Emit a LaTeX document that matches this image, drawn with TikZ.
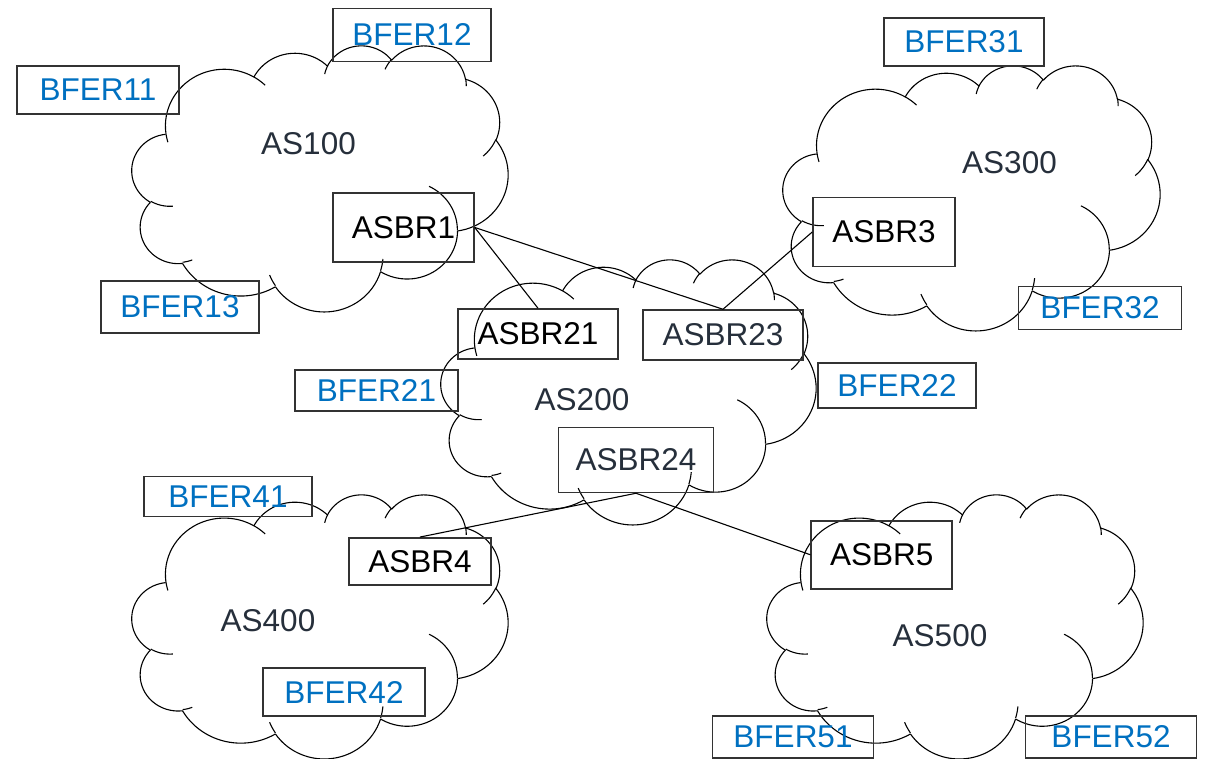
\documentclass[tikz,border=0pt]{standalone}
\usepackage{fontspec}
\setmainfont{Liberation Sans}
\definecolor{bferblue}{HTML}{0070C0}
\definecolor{asgray}{HTML}{262F3B}
\definecolor{boxgray}{HTML}{333333}
\newcommand\labelfont{\fontsize{31.5}{38}\selectfont}
% cloud drawing helpers (PowerPoint-like cloud, path space 43.2 x 43.2, y down)
\newcommand\setcloud[4]{\def\cldx{#1}\def\cldy{#2}\pgfmathsetmacro\cldsx{#3/43.2}\pgfmathsetmacro\cldsy{#4/43.2}}
\newcommand\cldmove[2]{\def\curx{#1}\def\cury{#2}}
\newcommand\cldarc[4]{%
  \pgfmathsetmacro\cta{atan2((#1)*sin(#3),(#2)*cos(#3))}%
  \pgfmathsetmacro\ctb{atan2((#1)*sin((#3)+(#4)),(#2)*cos((#3)+(#4)))}%
  \pgfmathsetmacro\ctb{\cta+mod(\ctb-\cta+720,360)}%
  \pgfmathsetmacro\ccx{\curx-(#1)*cos(\cta)}%
  \pgfmathsetmacro\ccy{\cury-(#2)*sin(\cta)}%
  \draw[cloudline] plot[domain=\cta:\ctb, samples=30, smooth]
    ({\cldx+\cldsx*(\ccx+(#1)*cos(\x))},{\cldy+\cldsy*(\ccy+(#2)*sin(\x))});%
  \pgfmathsetmacro\curx{\ccx+(#1)*cos(\ctb)}%
  \pgfmathsetmacro\cury{\ccy+(#2)*sin(\ctb)}%
}
\newcommand\cldear[6]{\cldmove{#1}{#2}\cldarc{#3}{#4}{#5}{#6}}
\newcommand\drawcloud[4]{%
  \setcloud{#1}{#2}{#3}{#4}%
  \cldmove{3.900}{14.370}%
  \cldarc{6.753}{9.190}{-190.4875}{123.7805}%
  \cldarc{5.333}{7.267}{-144.1024}{89.9452}%
  \cldarc{4.365}{5.945}{-145.8079}{99.7230}%
  \cldarc{4.857}{6.595}{-130.9861}{117.2417}%
  \cldarc{5.333}{7.273}{-78.7089}{109.0269}%
  \cldarc{6.775}{9.220}{-46.2673}{130.2690}%
  \cldarc{5.785}{7.867}{0.6250}{114.0333}%
  \cldarc{6.752}{9.215}{22.4516}{115.1726}%
  \cldarc{7.720}{10.543}{66.2426}{75.7110}%
  \cldarc{4.360}{5.918}{-274.9421}{146.7356}%
  \cldarc{4.345}{5.945}{-246.8285}{152.5189}%
  \cldear{4.693}{26.177}{4.345}{5.945}{86.7420}{26.4295}%
  \cldear{6.928}{34.899}{4.360}{5.918}{73.6105}{11.4475}%
  \cldear{16.478}{39.090}{6.752}{9.215}{137.6242}{14.0811}%
  \cldear{28.827}{34.751}{6.752}{9.215}{6.4533}{15.9984}%
  \cldear{34.129}{22.954}{5.785}{7.867}{-70.2924}{70.9174}%
  \cldear{41.798}{15.354}{5.333}{7.273}{30.3180}{27.7515}%
  \cldear{38.324}{5.426}{4.857}{6.595}{-13.7443}{14.8589}%
  \cldear{29.078}{3.952}{4.857}{6.595}{-149.1815}{18.1954}%
  \cldear{22.141}{4.720}{4.365}{5.945}{-163.4943}{17.6864}%
  \cldear{14.000}{5.192}{6.753}{9.190}{-66.7070}{12.3194}%
  \cldear{4.127}{15.789}{6.753}{9.190}{157.6544}{11.8582}%
}
\tikzset{
  cloudline/.style={draw=black, line width=1.1pt},
  boxnode/.style={draw=boxgray, line width=1.5pt, rectangle, inner sep=0pt, font=\labelfont},
  bfer/.style={boxnode, text=bferblue},
  asbr/.style={boxnode, text=black},
  asbrg/.style={boxnode, text=asgray},
  aslabel/.style={text=asgray, font=\labelfont, inner sep=0pt},
  link/.style={draw=black, line width=1.1pt},
}
\begin{document}
\begin{tikzpicture}[x=1pt,y=-1pt]
\useasboundingbox (0,0) rectangle (1207,759);
% clouds
\drawcloud{132}{45}{376}{266}
\drawcloud{783}{65}{377}{265}
\drawcloud{441}{259}{375}{265}
\drawcloud{132}{494}{376}{264}
\drawcloud{767}{494}{376}{264}
% AS labels
\node[aslabel] (as100) at (308.5,143.5) {AS100};
\node[aslabel] (as200) at (582,400) {AS200};
\node[aslabel] (as300) at (1009.5,162.5) {AS300};
\node[aslabel] (as400) at (268,621) {AS400};
\node[aslabel] (as500) at (940,636) {AS500};
% boxes
\node[bfer, minimum width=158pt, minimum height=53pt] (bfer12) at (412,35) {BFER12};
\node[bfer, minimum width=162pt, minimum height=48pt] (bfer11) at (98,90) {BFER11};
\node[asbr, minimum width=141pt, minimum height=69pt] (asbr1) at (403.5,227.5) {ASBR1};
\node[bfer, minimum width=158pt, minimum height=52pt] (bfer13) at (180,307) {BFER13};
\node[bfer, minimum width=160pt, minimum height=48pt] (bfer31) at (964,42) {BFER31};
\node[asbr, minimum width=142pt, minimum height=69pt] (asbr3) at (884,232) {ASBR3};
\node[bfer, minimum width=163pt, minimum height=43pt] (bfer32) at (1100,308) {BFER32};
\node[asbr, minimum width=160pt, minimum height=50pt] (asbr21) at (538,334) {ASBR21};
\node[asbrg, minimum width=160pt, minimum height=50pt] (asbr23) at (723,335) {ASBR23};
\node[bfer, minimum width=163pt, minimum height=41pt] (bfer21) at (376.5,390.5) {BFER21};
\node[bfer, minimum width=158pt, minimum height=45pt] (bfer22) at (897,385.5) {BFER22};
\node[asbrg, minimum width=155pt, minimum height=65pt] (asbr24) at (636,460) {ASBR24};
\node[bfer, minimum width=168pt, minimum height=40pt] (bfer41) at (228,496.7) {BFER41};
\node[asbr, minimum width=142pt, minimum height=47pt] (asbr4) at (420,561.3) {ASBR4};
\node[bfer, minimum width=162pt, minimum height=48pt] (bfer42) at (344,692) {BFER42};
\node[asbr, minimum width=141pt, minimum height=68pt] (asbr5) at (881.7,554.8) {ASBR5};
\node[bfer, minimum width=161pt, minimum height=42pt] (bfer51) at (793,737) {BFER51};
\node[bfer, minimum width=171pt, minimum height=42pt] (bfer52) at (1111,737) {BFER52};
% links
\draw[link] (asbr1.east) -- (asbr21.north);
\draw[link] (asbr1.east) -- (asbr23.north);
\draw[link] (asbr3.west) -- (asbr23.north);
\draw[link] (asbr24.south) -- (asbr4.north);
\draw[link] (asbr24.south) -- (asbr5.west);
\end{tikzpicture}
\end{document}
